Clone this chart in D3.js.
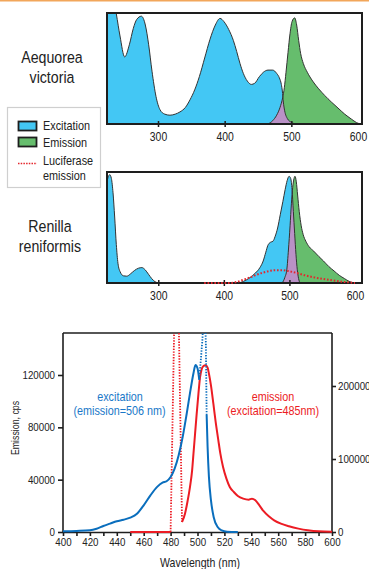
<!DOCTYPE html>
<html><head><meta charset="utf-8">
<script src="https://cdn.jsdelivr.net/npm/d3@7"></script>
<style>
html,body{margin:0;padding:0;background:#fff;}
svg{display:block;font-family:"Liberation Sans",Arial,Helvetica,sans-serif;}
</style></head>
<body>
<svg id="c" width="369" height="569"></svg>
<script>
// ---------- DATA ----------
// Aequorea victoria (relative intensity 0..1)
const aequoreaExcitation = [[222,1.45],[230,1.25],[237.5,1.0],[243,0.8],[250,0.61],[257,0.72],[263,0.87],[268,0.95],[275,0.98],[281,0.9],[286,0.72],[291,0.48],[297,0.25],[303,0.13],[310,0.09],[318,0.08],[326,0.09],[333,0.11],[341,0.15],[348,0.22],[355,0.31],[362,0.43],[370,0.6],[378,0.77],[386,0.9],[393,0.96],[399,0.93],[406,0.86],[413,0.76],[418,0.66],[423,0.55],[428,0.46],[434,0.39],[440,0.36],[445,0.37],[452,0.43],[458,0.47],[465,0.49],[472,0.49],[478,0.46],[482,0.42],[485,0.36],[486.5,0.3],[488,0.2],[490,0.12],[494,0.05],[500,0.015],[507,0]];
const aequoreaEmission = [[465,0],[472,0.03],[478,0.08],[483,0.15],[487,0.24],[489.5,0.33],[492,0.47],[495,0.65],[498,0.82],[501,0.93],[505,0.965],[508,0.9],[511,0.76],[514,0.64],[518,0.55],[524,0.47],[532,0.39],[541,0.32],[550,0.26],[560,0.2],[570,0.145],[580,0.09],[590,0.045],[598,0.012],[603,0]];
// Renilla reniformis
const renillaExcitation = [[221,0.9],[224,0.97],[226,0.985],[228.5,0.95],[231,0.82],[233.5,0.6],[236,0.35],[238.5,0.18],[242,0.1],[247,0.065],[252,0.062],[258,0.085],[264,0.115],[270,0.135],[275,0.14],[280,0.12],[285,0.08],[290,0.04],[295,0.012],[300,0.002],[305,0],[420,0],[430,0.015],[440,0.05],[448,0.09],[455,0.14],[460,0.2],[464,0.28],[467,0.34],[471,0.37],[475,0.38],[478,0.42],[482,0.5],[486,0.62],[490,0.74],[493.5,0.85],[496.5,0.93],[499.5,0.97],[502,0.95],[504,0.85],[506,0.65],[508,0.45],[510,0.26],[512,0.12],[514,0.04],[516,0]];
const renillaEmission = [[489,0],[493,0.05],[496,0.12],[498.5,0.3],[501,0.52],[503,0.72],[505,0.87],[507,0.95],[508.5,0.97],[510.5,0.92],[512.5,0.8],[515,0.65],[518,0.52],[521,0.44],[525,0.38],[530,0.33],[537,0.29],[545,0.24],[552,0.2],[560,0.15],[568,0.11],[576,0.07],[584,0.04],[591,0.015],[598,0]];
const luciferaseEmission = [[370,0],[410,0],[420,0.01],[430,0.03],[440,0.05],[450,0.075],[460,0.095],[470,0.11],[480,0.117],[488,0.117],[495,0.112],[505,0.1],[515,0.085],[525,0.068],[537,0.052],[550,0.038],[565,0.024],[580,0.012],[592,0.005],[600,0]];
const panelTicks = [300,400,500,600];
const legendLabels = ["Excitation","Emission","Luciferase","emission"];
const speciesNames = [["Aequorea","victoria"],["Renilla","reniformis"]];

// GFP spectra: excitation (left axis, cps), emission (right axis)
const gfpExcitation = [[400,500],[410,800],[420,1300],[425,2500],[430,4600],[435,6400],[440,8200],[445,9400],[450,11000],[455,14000],[460,20400],[465,28000],[470,34500],[474,37800],[477,38800],[480,42100],[483,48500],[486,58700],[489,72800],[492,90600],[495,109800],[497,121300],[498.5,127600],[500,125100],[501.3,116400]];
const gfpExcitationDotted = [[501.3,116400],[503.5,145000],[505.2,175000],[506.2,145000],[506.8,89400]];
const gfpExcitationTail = [[506.8,89400],[507.5,65100],[508.5,42100],[510,24300],[512,11500],[515,3800],[518,1300],[522,250],[530,0]];
const gfpEmissionBase = [[450,0],[480,0]];
const gfpEmissionDotted = [[480,0],[482.6,272600],[484.4,420000],[486.2,272600],[488.5,13700]];
const gfpEmission = [[488.5,13700],[490.7,25100],[492.5,41100],[494.4,61600],[496,84500],[497,107300],[498.2,134700],[499.4,162100],[500.7,189500],[501.9,212300],[503,222400],[504.3,226900],[506,228300],[507.5,225100],[508.5,216900],[510,200900],[511.8,175800],[513.5,150700],[515.5,125600],[517,107300],[519,89000],[521.5,73100],[524,61600],[527,54800],[530,49300],[534,45700],[538,44300],[540.5,45700],[543,43400],[546,36500],[549,28800],[553,21500],[557,16000],[562,11400],[568,7800],[575,4600],[582,2300],[590,900],[600,500]];
const xTicks = d3.range(400, 601, 10);
const leftTicks = [0,40000,80000,120000];
const rightTicks = [0,100000,200000];
const annotations = [["excitation","(emission=506 nm)"],["emission","(excitation=485nm)"]];

// ---------- STYLE ----------
const C = {ex:"#43c7f4", em:"#66bd6d", ov:"#b991c6", edge:"#333", frame:"#1e1e1e",
           blue:"#0a6ebd", red:"#ec1c24", text:"#222"};

const svg = d3.select("#c");
function squeeze(sel,k){ sel.each(function(){ const t=d3.select(this); const x=parseFloat(t.attr("x"))||0; t.attr("x",x/k).attr("transform",`scale(${k},1)`); }); }

// top orange rule
svg.append("line").attr("x1",0).attr("x2",369).attr("y1",0.6).attr("y2",0.6).attr("stroke","#f2a65a").attr("stroke-width",1.6);

// ---------- TOP PANELS ----------
function panel(id, top, domain, ex, em, luc, names, labelY){
  const L=107,R=362,B=top+111;
  const x=d3.scaleLinear().domain(domain).range([L,R]);
  const y=d3.scaleLinear().domain([0,1]).range([B,top+1]);
  const g=svg.append("g");
  const clip=g.append("clipPath").attr("id","clip"+id);
  clip.append("rect").attr("x",L).attr("y",top).attr("width",R-L).attr("height",B-top);
  const area=d3.area().x(d=>x(d[0])).y0(B).y1(d=>y(d[1])).curve(d3.curveMonotoneX);
  const line=d3.line().x(d=>x(d[0])).y(d=>y(d[1])).curve(d3.curveMonotoneX);
  const pg=g.append("g").attr("clip-path",`url(#clip${id})`);
  pg.append("path").attr("d",area(ex)).attr("fill",C.ex);
  pg.append("path").attr("d",area(em)).attr("fill",C.em);
  const oc=g.append("clipPath").attr("id","ov"+id);
  oc.append("path").attr("d",area(ex));
  pg.append("g").attr("clip-path",`url(#ov${id})`).append("path").attr("d",area(em)).attr("fill",C.ov);
  pg.append("path").attr("d",line(ex)).attr("fill","none").attr("stroke",C.edge).attr("stroke-width",1);
  pg.append("path").attr("d",line(em)).attr("fill","none").attr("stroke",C.edge).attr("stroke-width",1);
  g.append("rect").attr("x",L).attr("y",top).attr("width",R-L).attr("height",B-top)
    .attr("fill","none").attr("stroke",C.frame).attr("stroke-width",2);
  const ax=g.append("g").attr("transform",`translate(0,${B})`)
    .call(d3.axisBottom(x).tickValues(panelTicks).tickSize(3).tickPadding(4).tickFormat(d3.format("d")));
  ax.select(".domain").remove();
  ax.selectAll(".tick line").attr("y1",-3).attr("stroke",C.frame).attr("stroke-width",1.5)
    .filter(d=>d===600).remove();
  ax.selectAll(".tick text").attr("font-size",13).attr("fill",C.text).attr("font-family",null)
    .attr("y",labelY-B).attr("dy",null);
  squeeze(ax.selectAll(".tick text"),0.8);
  if(luc){
    g.append("path").attr("d",d3.line().x(d=>x(d[0])).y(d=>y(d[1])).curve(d3.curveMonotoneX)(luc))
      .attr("fill","none").attr("stroke","#e4262c").attr("stroke-width",2).attr("stroke-dasharray","1.6,1.8");
  }
}
panel(1, 13, [223.5,606], aequoreaExcitation, aequoreaEmission, null, speciesNames[0], 141);
panel(2, 172, [221.8,610.7], renillaExcitation, renillaEmission, luciferaseEmission, speciesNames[1], 300);

// species names
const tn=svg.append("g").attr("font-size",16.5).attr("fill",C.text).attr("text-anchor","middle");
[[52,63],[52,83]].forEach((p,i)=>tn.append("text").attr("x",p[0]).attr("y",p[1]).text(speciesNames[0][i]));
[[50,232],[50,252]].forEach((p,i)=>tn.append("text").attr("x",p[0]).attr("y",p[1]).text(speciesNames[1][i]));
squeeze(tn.selectAll("text"),0.86);

// legend
const lg=svg.append("g");
lg.append("rect").attr("x",7.5).attr("y",107.5).attr("width",93).attr("height",80).attr("fill","#fff").attr("stroke","#cfcfcf").attr("stroke-width",1.2);
lg.append("rect").attr("x",18.5).attr("y",121.5).attr("width",18).attr("height",9).attr("fill",C.ex).attr("stroke",C.frame).attr("stroke-width",1.8);
lg.append("rect").attr("x",18.5).attr("y",137.5).attr("width",18).attr("height",9).attr("fill",C.em).attr("stroke",C.frame).attr("stroke-width",1.8);
lg.append("line").attr("x1",18).attr("x2",37).attr("y1",163.5).attr("y2",163.5).attr("stroke","#e4262c").attr("stroke-width",1.5).attr("stroke-dasharray","1.5,1.2");
const lt=lg.append("g").attr("font-size",12.5).attr("fill",C.text);
[[43,130.5],[43,147],[43,165],[43,180]].forEach((p,i)=>lt.append("text").attr("x",p[0]).attr("y",p[1]).text(legendLabels[i]));
squeeze(lt.selectAll("text"),0.87);

// ---------- BOTTOM CHART ----------
const bL=63,bR=332,bT=333,bB=532;
const bx=d3.scaleLinear().domain([400,600]).range([bL,bR]);
const byL=d3.scaleLinear().domain([0,120000]).range([bB,375]);
const byR=d3.scaleLinear().domain([0,200000]).range([bB,386]);
const bg=svg.append("g");
bg.append("clipPath").attr("id","bclip").append("rect").attr("x",bL-1).attr("y",bT).attr("width",bR-bL+2).attr("height",bB-bT+2);

// frame
bg.append("line").attr("x1",bL).attr("x2",bR).attr("y1",bT).attr("y2",bT).attr("stroke",C.frame).attr("stroke-width",1.6);

const axB=bg.append("g").attr("transform",`translate(0,${bB})`)
  .call(d3.axisBottom(bx).tickValues(xTicks).tickSize(4).tickPadding(3).tickSizeOuter(0).tickFormat(d=>d%20===0?d:""));
const axL=bg.append("g").attr("transform",`translate(${bL},0)`)
  .call(d3.axisLeft(byL).tickValues(leftTicks).tickSize(5).tickPadding(3).tickSizeOuter(0).tickFormat(d3.format("d")));
const axR=bg.append("g").attr("transform",`translate(${bR},0)`)
  .call(d3.axisRight(byR).tickValues(rightTicks).tickSize(4).tickPadding(2).tickSizeOuter(0).tickFormat(d3.format("d")));
axL.select(".domain").attr("d",`M0,${bT}V${bB}`);
axR.select(".domain").attr("d",`M0,${bT}V${bB}`);
[axB,axL,axR].forEach(a=>{
  a.selectAll(".domain,.tick line").attr("stroke",C.frame).attr("stroke-width",1.6);
  a.selectAll(".tick text").attr("font-size",10.5).attr("fill",C.text);
});
[axB,axL,axR].forEach(a=>a.attr("font-family",null));
squeeze(axB.selectAll(".tick text"),0.93);
squeeze(axL.selectAll(".tick text"),0.93);
squeeze(axR.selectAll(".tick text"),0.93);

const lineL=d3.line().x(d=>bx(d[0])).y(d=>byL(d[1])).curve(d3.curveMonotoneX);
const lineR=d3.line().x(d=>bx(d[0])).y(d=>byR(d[1])).curve(d3.curveMonotoneX);
const lineRl=d3.line().x(d=>bx(d[0])).y(d=>byR(d[1]));
const lineLl=d3.line().x(d=>bx(d[0])).y(d=>byL(d[1]));
const cg=bg.append("g").attr("clip-path","url(#bclip)").attr("fill","none").attr("stroke-linejoin","round");
cg.append("path").attr("d",lineR(gfpEmissionBase)).attr("stroke",C.red).attr("stroke-width",1.8);
cg.append("path").attr("d",lineRl(gfpEmissionDotted)).attr("stroke",C.red).attr("stroke-width",1.8).attr("stroke-dasharray","1.4,1.4");
cg.append("path").attr("d",lineR(gfpEmission)).attr("stroke",C.red).attr("stroke-width",2);
cg.append("path").attr("d",lineL(gfpExcitation)).attr("stroke",C.blue).attr("stroke-width",2);
cg.append("path").attr("d",lineLl(gfpExcitationDotted)).attr("stroke",C.blue).attr("stroke-width",1.8).attr("stroke-dasharray","1.4,1.4");
cg.append("path").attr("d",lineL(gfpExcitationTail)).attr("stroke",C.blue).attr("stroke-width",2);

// annotations
const an=bg.append("g").attr("font-size",12).attr("text-anchor","middle");
an.append("text").attr("x",120).attr("y",401).attr("fill","#1a78c8").text(annotations[0][0]);
an.append("text").attr("x",119.5).attr("y",415.5).attr("fill","#1a78c8").text(annotations[0][1]);
an.append("text").attr("x",273).attr("y",401).attr("fill",C.red).text(annotations[1][0]);
an.append("text").attr("x",273).attr("y",415.5).attr("fill",C.red).text(annotations[1][1]);
squeeze(an.selectAll("text"),0.9);

// axis titles
const xt=bg.append("text").attr("x",200).attr("y",567.5).attr("font-size",12).attr("fill",C.text).attr("text-anchor","middle").text("Wavelength (nm)");
squeeze(xt,0.88);
bg.append("text").attr("transform","translate(19,428) rotate(-90) scale(0.8,1)")
  .attr("font-size",11).attr("fill",C.text).attr("text-anchor","middle").text("Emission, cps");
</script>
</body></html>
